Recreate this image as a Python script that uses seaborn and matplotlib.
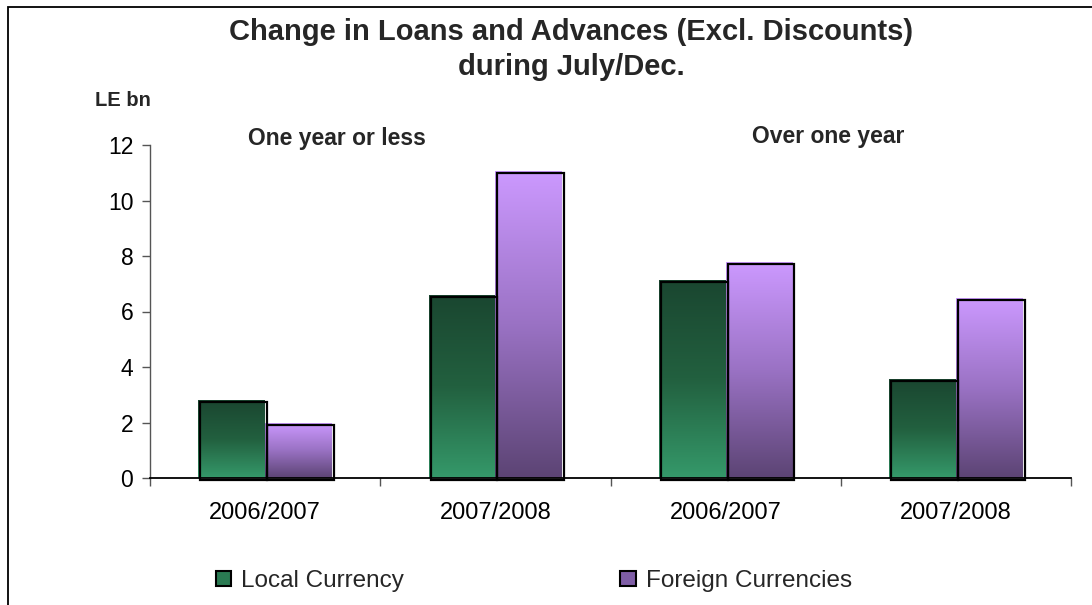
import numpy as np
import pandas as pd
import matplotlib
matplotlib.use("Agg")
import matplotlib.pyplot as plt
import seaborn as sns
from matplotlib.colors import LinearSegmentedColormap
from matplotlib.patches import Rectangle
from matplotlib.transforms import ScaledTranslation

# Data (LE bn)
maturity = ["One year or less", "One year or less", "Over one year", "Over one year"]
periods = ["2006/2007", "2007/2008", "2006/2007", "2007/2008"]
local_currency = [2.8, 6.6, 7.15, 3.55]
foreign_currencies = [2.0, 11.08, 7.78, 6.5]
series_names = ["Local Currency", "Foreign Currencies"]

groups = [f"{m} {p}" for m, p in zip(maturity, periods)]
df = pd.DataFrame({
    "group": groups * 2,
    "series": [series_names[0]] * 4 + [series_names[1]] * 4,
    "value": local_currency + foreign_currencies,
})

sns.set_theme(style="white")
plt.rcParams["font.family"] = ["Liberation Sans", "DejaVu Sans"]

fig = plt.figure(figsize=(10.92, 6.05), dpi=100)
ax = fig.add_axes([150 / 1092, 127 / 605, 921 / 1092, 333 / 605])

sns.barplot(data=df, x="group", y="value", hue="series", order=groups,
            hue_order=series_names, width=0.58, ax=ax, legend=False,
            palette=["#2a7a52", "#9a72c4"], saturation=1)

green = LinearSegmentedColormap.from_list("g", ["#1a4630", "#22603f", "#35996a"])
purple = LinearSegmentedColormap.from_list("p", ["#cc99ff", "#9a72c4", "#5c4474"])
grad = np.linspace(0, 1, 256).reshape(-1, 1)

shadow = ax.transData + ScaledTranslation(2 / 100, -2 / 100, fig.dpi_scale_trans)
for i, bar in enumerate(ax.patches[:8]):
    x0, y0 = bar.get_x(), bar.get_y()
    w, h = bar.get_width(), bar.get_height()
    cmap = green if i < 4 else purple
    bar.set_facecolor("none")
    bar.set_edgecolor("none")
    im = ax.imshow(grad, cmap=cmap, aspect="auto", extent=(x0, x0 + w, y0, y0 + h),
                   origin="upper", zorder=2)
    im.set_clip_path(bar)
    ax.add_patch(Rectangle((x0, y0), w, h, facecolor="none", edgecolor="black",
                           lw=1.6, transform=shadow, zorder=3, clip_on=False))

ax.set_xlim(-0.5, 3.5)
ax.set_ylim(0, 12)
ax.set_yticks(range(0, 13, 2))
ax.set_xticks(range(4))
ax.set_xticklabels(periods)
ax.set_xticks([-0.5, 0.5, 1.5, 2.5, 3.5], minor=True)
ax.tick_params(axis="x", which="major", length=0, labelsize=17, pad=17, colors="black")
ax.tick_params(axis="x", which="minor", length=6, width=1, color="#555555", direction="out", bottom=True)
ax.tick_params(axis="y", length=6, width=1, color="#555555", direction="out", left=True,
               labelsize=16.5, pad=6, labelcolor="black")
ax.set_xlabel("")
ax.set_ylabel("")
for s in ["top", "right"]:
    ax.spines[s].set_visible(False)
ax.spines["left"].set_color("#555555")
ax.spines["bottom"].set_color("black")
ax.spines["left"].set_linewidth(1)
ax.spines["bottom"].set_linewidth(1.3)
ax.grid(False)

# Titles and annotations
fig.text(571 / 1092, 1 - 32 / 605, "Change in Loans and Advances (Excl. Discounts)",
         ha="center", va="center", fontsize=21, fontweight="bold")
fig.text(571 / 1092, 1 - 67 / 605, "during July/Dec.",
         ha="center", va="center", fontsize=21, fontweight="bold")
fig.text(95 / 1092, 1 - 100 / 605, "LE bn", ha="left", va="center",
         fontsize=14.5, fontweight="bold")
fig.text(337 / 1092, 1 - 138 / 605, "One year or less", ha="center", va="center",
         fontsize=16.5, fontweight="bold")
fig.text(828 / 1092, 1 - 136 / 605, "Over one year", ha="center", va="center",
         fontsize=16.5, fontweight="bold")

# Legend
handles = [Rectangle((0, 0), 1, 1, facecolor="#2a7a52", edgecolor="black", lw=1.5),
           Rectangle((0, 0), 1, 1, facecolor="#7f5ea6", edgecolor="black", lw=1.5)]
fig.legend(handles, series_names, loc="center left", bbox_to_anchor=(216 / 1092, 1 - 581 / 605),
           ncol=2, frameon=False, fontsize=17.5, handlelength=0.62, handleheight=0.62,
           handletextpad=0.42, columnspacing=8.9, borderaxespad=0, borderpad=0)

# Outer frame
fig.add_artist(Rectangle((8 / 1092, -0.1), 1.2, 1 - 7 / 605 + 0.1, transform=fig.transFigure,
                         facecolor="none", edgecolor="black", lw=1.3))

fig.savefig("out.png", dpi=100)
